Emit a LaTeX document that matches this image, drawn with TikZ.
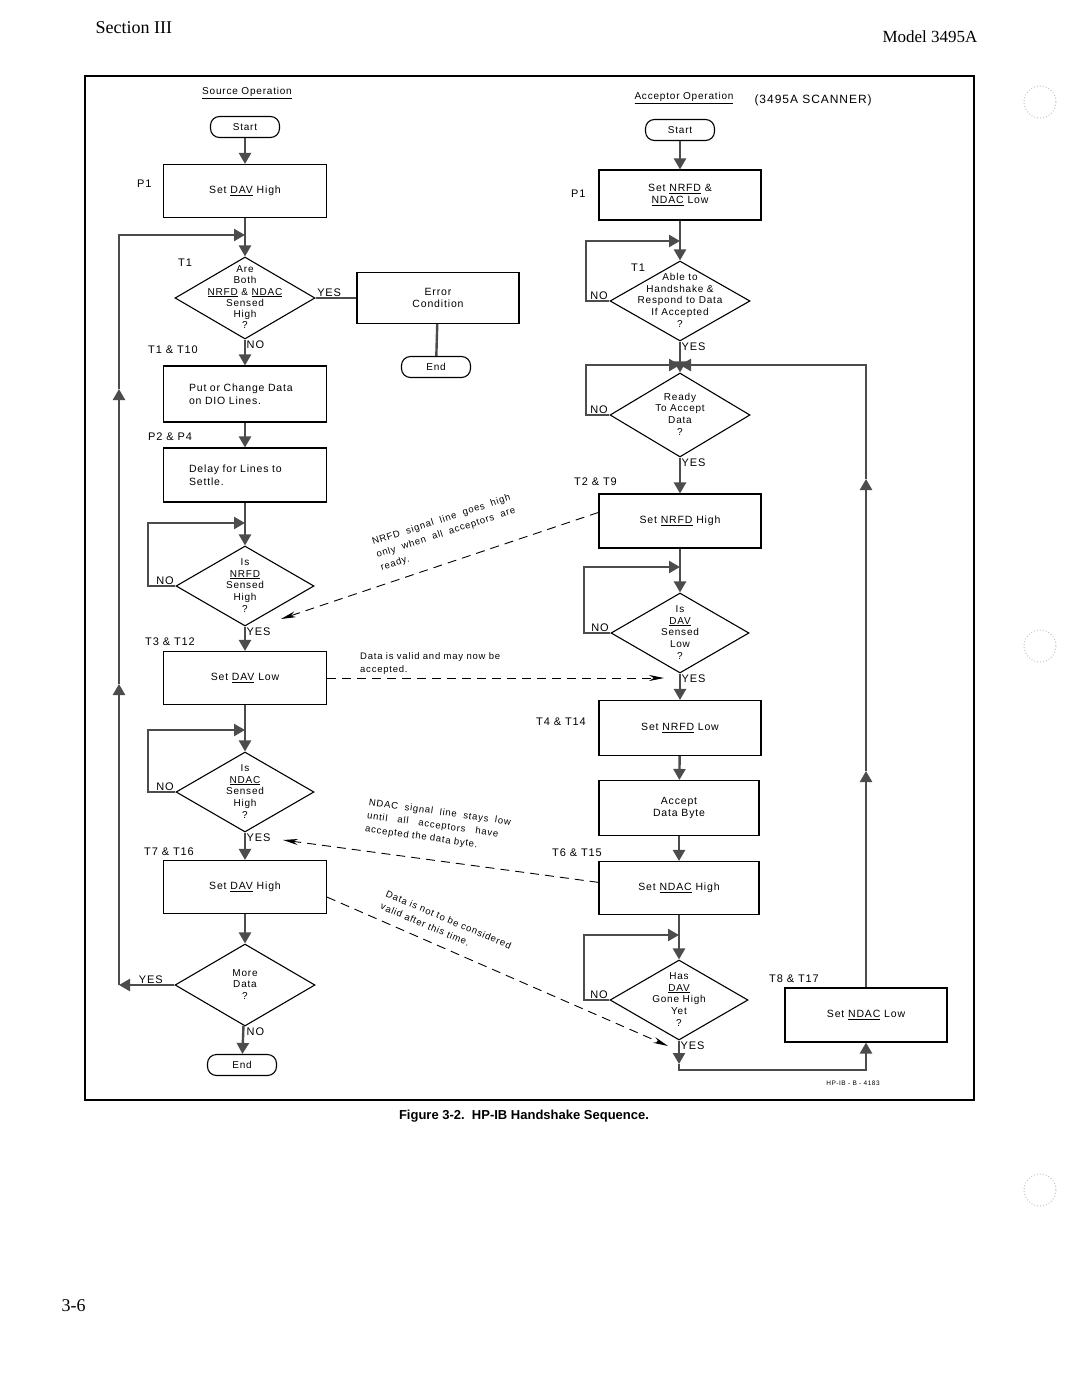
\documentclass[tikz,border=0pt]{standalone}
\usepackage{fontspec}
\setmainfont{Liberation Sans}
\newfontfamily\hp[LetterSpace=8]{Liberation Sans}
\newfontfamily\pgserif{Liberation Serif}
\usetikzlibrary{shapes.geometric,arrows.meta,positioning}
\newcommand\dq[1]{\makebox[0pt]{\smash{\raisebox{-3pt}{\begin{tabular}{@{}c@{}}#1\end{tabular}}}}}

\begin{document}
\begin{tikzpicture}[x=1pt,y=-1pt,
  box/.style={draw,line width=1.1pt,minimum width=163pt,minimum height=53pt,inner sep=2pt,align=center,font=\hp\fontsize{10.5}{12.5}\selectfont},
  term/.style={draw,line width=1.1pt,rounded corners=9pt,minimum width=69pt,minimum height=21pt,inner sep=1pt,font=\hp\fontsize{10}{12}\selectfont},
  dia/.style={draw,line width=1.1pt,diamond,aspect=1.7,inner sep=0pt,minimum width=140pt,minimum height=82pt,font=\hp\fontsize{10}{11.8}\selectfont},
  flow/.style={line width=2.4pt,draw=black!70,-{Triangle[width=12pt,length=11pt,fill=black!70]}},
  wire/.style={line width=2.4pt,draw=black!70},
  hint/.style={line width=0.9pt,dash pattern=on 9pt off 6pt,-{Stealth[length=15pt,width=6pt]}},
  tag/.style={font=\hp\fontsize{11}{13}\selectfont,inner sep=1pt},
  yn/.style={font=\hp\fontsize{11}{13}\selectfont,inner sep=1.5pt},
  note/.style={font=\hp\fontsize{9.5}{13.5}\selectfont,align=left,inner sep=0pt}]
\fill[white] (0,0) rectangle (1080,1399);
\useasboundingbox (0,0) rectangle (1080,1399);

% page
\node[font=\pgserif\fontsize{18}{20}\selectfont,anchor=west] (sec) at (92,28) {Section III}; %%
\node[font=\pgserif\fontsize{17}{20}\selectfont,anchor=west] (model) at (879,37) {Model 3495A}; %%
\node[font=\pgserif\fontsize{18}{20}\selectfont,anchor=west] (pg) at (58,1306) {3-6}; %%
\node[font=\bfseries\fontsize{13}{15}\selectfont] (cap) at (524,1116) {Figure 3-2.\ \ HP-IB Handshake Sequence.}; %%
\draw[line width=1.1pt] (85,76) rectangle (974,1100);
\foreach \hy in {102,646,1190}
  \draw[gray!45,dotted,line width=1pt] (1040,\hy) circle (16);

% source side
\node[font=\hp\fontsize{10}{11}\selectfont] (srcop) at (247,93) {\underline{Source Operation}}; %%
\node[term] (start1) at (245,127) {Start}; %%
\node[box] (b1) at (245,191) {Set \underline{DAV} High}; %%
\node[dia,font=\hp\fontsize{10}{11.2}\selectfont] (d1) at (245,298) {\dq{Are\\Both\\\underline{NRFD} \& \underline{NDAC}\\Sensed\\High\\?}}; %%
\node[box,minimum width=162pt,minimum height=51pt] (err) at (438,298) {Error\\Condition}; %%
\node[term] (end1) at (436,367) {End}; %%
\node[box,minimum height=56pt,text width=112pt,align=left] (b2) at (245,394) {Put or Change Data\\on DIO Lines.}; %%
\node[box,minimum height=54pt,text width=112pt,align=left] (b3) at (245,475) {Delay for Lines to\\Settle.}; %%
\node[dia,minimum width=138pt,minimum height=80pt] (d2) at (245,586) {\dq{Is\\\underline{NRFD}\\Sensed\\High\\?}}; %%
\node[box] (b4) at (245,678) {Set \underline{DAV} Low}; %%
\node[dia,minimum width=138pt,minimum height=80pt] (d3) at (245,792) {\dq{Is\\\underline{NDAC}\\Sensed\\High\\?}}; %%
\node[box] (b5) at (245,887) {Set \underline{DAV} High}; %%
\node[dia] (d4) at (245,985) {\dq{More\\Data\\?}}; %%
\node[term] (end2) at (242,1065) {End}; %%

\node[tag,anchor=west] (p1a) at (136,184) {P1}; %%
\node[tag,anchor=west] (t1a) at (177,263) {T1}; %%
\node[tag,anchor=west] (t1t10) at (147,350) {T1 \& T10}; %%
\node[tag,anchor=west] (p2p4) at (147,437) {P2 \& P4}; %%
\node[tag,anchor=west] (t3t12) at (144,642) {T3 \& T12}; %%
\node[tag,anchor=west] (t7t16) at (143,852) {T7 \& T16}; %%

\node[yn,anchor=south west] (y1) at (d1.east) {YES}; %%
\node[yn,anchor=north west] (n1) at (d1.south) {NO}; %%
\node[yn,anchor=south east] (n2) at (d2.west) {NO}; %%
\node[yn,anchor=north west] (y2) at (d2.south) {YES}; %%
\node[yn,anchor=south east] (n3) at (d3.west) {NO}; %%
\node[yn,anchor=north west] (y3) at (d3.south) {YES}; %%
\node[yn,anchor=south east,xshift=-10pt] (y4) at (d4.west) {YES}; %%
\node[yn,anchor=north west] (n4) at (d4.south) {NO}; %%

\coordinate (j1) at (245,235);
\coordinate (j2) at (245,523);
\coordinate (j3) at (245,730);
\coordinate (l2) at (148,523);
\coordinate (l3) at (148,730);
\coordinate (rl0) at (119,985);
\coordinate (rl1) at (119,684);
\coordinate (rl2) at (119,389);
\coordinate (rl3) at (119,235);

\draw[flow] (start1) -- (b1); %%
\draw[flow] (b1) -- (d1); %%
\draw[wire] (d1.east) -- (err.west); %%
\draw[wire] (err) -- (end1); %%
\draw[flow] (d1) -- (b2); %%
\draw[flow] (b2) -- (b3); %%
\draw[flow] (b3) -- (d2); %%
\draw[flow] (d2) -- (b4); %%
\draw[flow] (b4) -- (d3); %%
\draw[flow] (d3) -- (b5); %%
\draw[flow] (b5) -- (d4); %%
\draw[flow] (d4) -- (end2); %%
\draw[flow] (d2.west) -| (l2) -- (j2); %%
\draw[flow] (d3.west) -| (l3) -- (j3); %%
\draw[flow] (d4.west) -- (rl0); %%
\draw[flow] (rl0) -- (rl1); %%
\draw[flow] (rl1) -- (rl2); %%
\draw[flow] (rl2) -- (rl3) -- (j1); %%

% acceptor side
\node[font=\hp\fontsize{10}{11}\selectfont] (accop) at (684,98) {\underline{Acceptor Operation}}; %%
\node[font=\hp\fontsize{12}{14}\selectfont,anchor=west] (scan) at (751,100) {(3495A SCANNER)}; %%
\node[term] (start2) at (680,130) {Start}; %%
\node[box,minimum width=162pt,minimum height=50pt] (r1) at (680,195) {Set \underline{NRFD} \&\\\underline{NDAC} Low}; %%
\node[dia,minimum height=80pt] (rd1) at (680,301) {\dq{Able to\\Handshake \&\\Respond to Data\\If Accepted\\?}}; %%
\node[dia,minimum height=84pt] (rd2) at (680,415) {\dq{Ready\\To Accept\\Data\\?}}; %%
\node[box,minimum width=162pt,minimum height=54pt] (r2) at (680,521) {Set \underline{NRFD} High}; %%
\node[dia,minimum width=138pt,minimum height=80pt] (rd3) at (680,633) {\dq{Is\\\underline{DAV}\\Sensed\\Low\\?}}; %%
\node[box,minimum width=162pt,minimum height=55pt] (r3) at (680,728) {Set \underline{NRFD} Low}; %%
\node[box,minimum width=160pt,minimum height=55pt] (r4) at (679,808) {Accept\\Data Byte}; %%
\node[box,minimum width=160pt,minimum height=53pt] (r5) at (679,888) {Set \underline{NDAC} High}; %%
\node[dia,minimum width=138pt,minimum height=80pt] (rd4) at (679,1000) {\dq{Has\\\underline{DAV}\\Gone High\\Yet\\?}}; %%
\node[box,minimum width=162pt,minimum height=54pt] (r6) at (866,1015) {Set \underline{NDAC} Low}; %%

\node[tag,anchor=west] (p1b) at (570,194) {P1}; %%
\node[tag,anchor=west] (t1b) at (630,268) {T1}; %%
\node[tag,anchor=west] (t2t9) at (573,482) {T2 \& T9}; %%
\node[tag,anchor=west] (t4t14) at (535,722) {T4 \& T14}; %%
\node[tag,anchor=west] (t6t15) at (551,853) {T6 \& T15}; %%
\node[tag,anchor=west] (t8t17) at (768,979) {T8 \& T17}; %%
\node[font=\hp\fontsize{6.5}{8}\selectfont] (code) at (853,1083) {HP-IB - B - 4183}; %%

\node[yn,anchor=south east] (n5) at (rd1.west) {NO}; %%
\node[yn,anchor=north west] (y5) at (rd1.south) {YES}; %%
\node[yn,anchor=south east] (n6) at (rd2.west) {NO}; %%
\node[yn,anchor=north west] (y6) at (rd2.south) {YES}; %%
\node[yn,anchor=south east] (n7) at (rd3.west) {NO}; %%
\node[yn,anchor=north west] (y7) at (rd3.south) {YES}; %%
\node[yn,anchor=south east] (n8) at (rd4.west) {NO}; %%
\node[yn,anchor=north west] (y8) at (rd4.south) {YES}; %%

\coordinate (j4) at (680,241);
\coordinate (j5) at (680,365);
\coordinate (j6) at (680,567);
\coordinate (j7) at (679,935);
\coordinate (l4) at (586,241);
\coordinate (l5) at (586,365);
\coordinate (l6) at (584,567);
\coordinate (l7) at (584,935);
\coordinate (rb) at (679,1064);
\coordinate (rc) at (679,1070);
\coordinate (rr1) at (866,771);
\coordinate (rr2) at (866,479);
\coordinate (rr3) at (866,365);

\draw[flow] (start2) -- (r1); %%
\draw[flow] (r1) -- (rd1); %%
\draw[flow] (rd1) -- (rd2); %%
\draw[flow] (rd2) -- (r2); %%
\draw[flow] (r2) -- (rd3); %%
\draw[flow] (rd3) -- (r3); %%
\draw[flow] (r3) -- (r4); %%
\draw[flow] (r4) -- (r5); %%
\draw[flow] (r5) -- (rd4); %%
\draw[flow] (rd1.west) -| (l4) -- (j4); %%
\draw[flow] (rd2.west) -| (l5) -- (j5); %%
\draw[flow] (rd3.west) -| (l6) -- (j6); %%
\draw[flow] (rd4.west) -| (l7) -- (j7); %%
\draw[flow] (rd4) -- (rb); %%
\draw[flow] (rb) -- (rc) -| (r6.south); %%
\draw[flow] (r6.north) -- (rr1); %%
\draw[flow] (rr1) -- (rr2); %%
\draw[flow] (rr2) -- (rr3) -- (j5); %%

% signal notes
\coordinate (tip1) at (281,619);
\coordinate (tip2) at (664,678);
\coordinate (tip3) at (283,840);
\coordinate (tip4) at (668,1046);
\draw[hint] (r2.174) -- (tip1); %%
\draw[hint] (b4.east) -- (tip2); %%
\draw[hint] (r5.176) -- (tip3); %%
\draw[hint] (b5.353) -- (tip4); %%
\node[note,rotate=18] (h1) at (446,533) {NRFD\ \ signal\ \ line\ \ goes\ \ high\\only\ \ when\ \ all\ \ acceptors\ \ are\\ready.}; %%
\node[note,anchor=north west] (h2) at (360,652) {Data is valid and may now be\\accepted.}; %%
\node[note,rotate=-8] (h3) at (438,826) {NDAC\ \ signal\ \ line\ \ stays\ \ low\\until\ \ \ all\ \ \ acceptors\ \ \ have\\accepted the data byte.}; %%
\node[note,rotate=-23] (h4) at (446,926) {Data is not to be considered\\valid after this time.}; %%
\end{tikzpicture}
\end{document}
